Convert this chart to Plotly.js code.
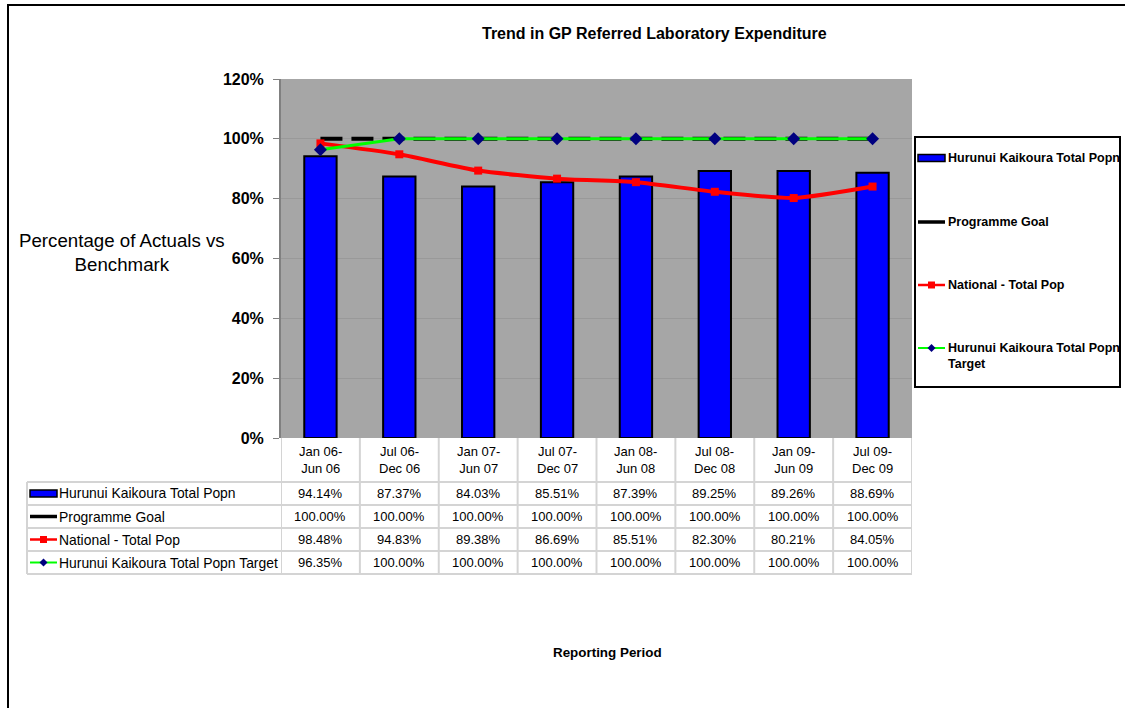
<!DOCTYPE html>
<html>
<head>
<meta charset="utf-8">
<script src="https://cdn.plot.ly/plotly-3.0.1.min.js"></script>
<style>html,body{margin:0;padding:0;background:#fff;}#chart{width:1125px;height:708px;}</style>
</head>
<body>
<div id="chart"></div>
<script>
// ---- data ----
var periodStart = ["Jan 06-", "Jul 06-", "Jan 07-", "Jul 07-", "Jan 08-", "Jul 08-", "Jan 09-", "Jul 09-"];
var periodEnd   = ["Jun 06", "Dec 06", "Jun 07", "Dec 07", "Jun 08", "Dec 08", "Jun 09", "Dec 09"];
var hurunuiActual   = [94.14, 87.37, 84.03, 85.51, 87.39, 89.25, 89.26, 88.69];
var programmeGoal   = [100.00, 100.00, 100.00, 100.00, 100.00, 100.00, 100.00, 100.00];
var nationalTotal   = [98.48, 94.83, 89.38, 86.69, 85.51, 82.30, 80.21, 84.05];
var hurunuiTarget   = [96.35, 100.00, 100.00, 100.00, 100.00, 100.00, 100.00, 100.00];
var seriesNames = ["Hurunui Kaikoura Total Popn", "Programme Goal", "National - Total Pop", "Hurunui Kaikoura Total Popn Target"];
var yTickVals = [0, 0.2, 0.4, 0.6, 0.8, 1.0, 1.2];

// ---- layout geometry (pixels) ----
var W = 1125, H = 708;
var PL = 281, PR = 912, PT = 79, PB = 438;
function py(p) { return (PB - p) / (PB - PT); }      // pixel y -> paper y
function px(p) { return (p - PL) / (PR - PL); }      // pixel x -> paper x

var FONT = "Liberation Sans, Arial, sans-serif";
var idx = periodStart.map(function (_, i) { return i; });
var frac = function (a) { return a.map(function (v) { return v / 100; }); };

var traces = [
  { type: "bar", x: idx, y: frac(hurunuiActual), name: seriesNames[0], width: 0.41,
    marker: { color: "#0000ff", line: { color: "#000000", width: 2 } }, hoverinfo: "y" },
  { type: "scatter", mode: "lines", x: idx, y: frac(programmeGoal), name: seriesNames[1],
    line: { color: "#000000", width: 4, dash: "22px,9px" } },
  { type: "scatter", mode: "lines+markers", x: idx, y: frac(nationalTotal), name: seriesNames[2],
    line: { color: "#ff0000", width: 4, shape: "spline", smoothing: 0.6 },
    marker: { symbol: "square", size: 8, color: "#ff0000" } },
  { type: "scatter", mode: "lines+markers", x: idx, y: frac(hurunuiTarget), name: seriesNames[3],
    line: { color: "#00ff00", width: 3 },
    marker: { symbol: "diamond", size: 10, color: "#000080" } }
];

var shapes = [], annotations = [];
var GRID = "#d4d4d4";
// outer chart frame
shapes.push({ type: "line", xref: "paper", yref: "paper", x0: px(7), x1: px(1125), y0: py(5), y1: py(5), line: { color: "#000", width: 2 } });
shapes.push({ type: "line", xref: "paper", yref: "paper", x0: px(8), x1: px(8), y0: py(5), y1: py(708), line: { color: "#000", width: 2 } });

// data table
var rowEdges = [482, 505, 528, 551, 574];
var tableLeft = 27;
for (var i = 0; i <= periodStart.length; i++) {
  shapes.push({ type: "line", xref: "x", yref: "paper", x0: i - 0.5, x1: i - 0.5, y0: py(PB), y1: py(574), line: { color: GRID, width: 2 } });
}
shapes.push({ type: "line", xref: "paper", yref: "paper", x0: px(tableLeft), x1: px(tableLeft), y0: py(482), y1: py(574), line: { color: GRID, width: 2 } });
rowEdges.forEach(function (ry) {
  shapes.push({ type: "line", xref: "paper", yref: "paper", x0: px(tableLeft), x1: 1, y0: py(ry), y1: py(ry), line: { color: GRID, width: 2 } });
});
// header labels
idx.forEach(function (i) {
  annotations.push({ xref: "x", yref: "paper", x: i, y: py(459.5), text: periodStart[i] + "<br>" + periodEnd[i],
    showarrow: false, font: { family: FONT, size: 13, color: "#000" }, xanchor: "center", yanchor: "middle" });
});
// value cells
var rowsData = [hurunuiActual, programmeGoal, nationalTotal, hurunuiTarget];
rowsData.forEach(function (arr, r) {
  var cy = (rowEdges[r] + rowEdges[r + 1]) / 2;
  arr.forEach(function (v, i) {
    annotations.push({ xref: "x", yref: "paper", x: i, y: py(cy), text: v.toFixed(2) + "%",
      showarrow: false, font: { family: FONT, size: 13, color: "#000" }, xanchor: "center", yanchor: "middle" });
  });
  annotations.push({ xref: "paper", yref: "paper", x: px(57), y: py(cy), text: seriesNames[r],
    showarrow: false, font: { family: FONT, size: 13.9, color: "#000" }, xanchor: "left", yanchor: "middle" });
});

// legend key symbols (used in table and in the side legend)
function keySymbols(x0, x1, cy, r) {
  var xm = (x0 + x1) / 2;
  if (r === 0) {
    shapes.push({ type: "rect", xref: "paper", yref: "paper", x0: px(x0), x1: px(x1), y0: py(cy - 3.5), y1: py(cy + 3.5),
      fillcolor: "#0000ff", line: { color: "#000", width: 1.5 } });
  } else if (r === 1) {
    shapes.push({ type: "line", xref: "paper", yref: "paper", x0: px(x0), x1: px(x1), y0: py(cy), y1: py(cy), line: { color: "#000", width: 3.5 } });
  } else if (r === 2) {
    shapes.push({ type: "line", xref: "paper", yref: "paper", x0: px(x0), x1: px(x1), y0: py(cy), y1: py(cy), line: { color: "#ff0000", width: 2.5 } });
    shapes.push({ type: "rect", xref: "paper", yref: "paper", x0: px(xm - 3.5), x1: px(xm + 3.5), y0: py(cy - 3.5), y1: py(cy + 3.5), fillcolor: "#ff0000", line: { width: 0 } });
  } else {
    shapes.push({ type: "line", xref: "paper", yref: "paper", x0: px(x0), x1: px(x1), y0: py(cy), y1: py(cy), line: { color: "#00ff00", width: 2 } });
    shapes.push({ type: "path", xref: "paper", yref: "paper",
      path: "M " + px(xm - 4) + " " + py(cy) + " L " + px(xm) + " " + py(cy - 4) + " L " + px(xm + 4) + " " + py(cy) + " L " + px(xm) + " " + py(cy + 4) + " Z",
      fillcolor: "#000080", line: { width: 0 } });
  }
}
rowsData.forEach(function (_, r) { keySymbols(30, 57, (rowEdges[r] + rowEdges[r + 1]) / 2, r); });

// side legend
shapes.push({ type: "rect", xref: "paper", yref: "paper", x0: px(915), x1: px(1120), y0: py(137), y1: py(387), line: { color: "#000", width: 2 }, fillcolor: "rgba(0,0,0,0)" });
var legY = [158, 222, 285, 348];
var legText = [seriesNames[0], seriesNames[1], seriesNames[2], "Hurunui Kaikoura Total Popn<br>Target"];
legY.forEach(function (ly, r) {
  keySymbols(918, 945, ly, r);
  annotations.push({ xref: "paper", yref: "paper", x: px(946), y: py(ly - 9), text: "<b>" + legText[r] + "</b>",
    showarrow: false, font: { family: FONT, size: 12.5, color: "#000" }, xanchor: "left", yanchor: "top", align: "left" });
});

// titles
annotations.push({ xref: "paper", yref: "paper", x: px(654), y: py(34), text: "<b>Trend in GP Referred Laboratory Expenditure</b>",
  showarrow: false, font: { family: FONT, size: 16, color: "#000" }, xanchor: "center", yanchor: "middle" });
annotations.push({ xref: "paper", yref: "paper", x: px(122), y: py(252), text: "Percentage of Actuals vs<br>Benchmark",
  showarrow: false, font: { family: FONT, size: 18.7, color: "#000" }, xanchor: "center", yanchor: "middle" });
annotations.push({ xref: "paper", yref: "paper", x: px(607), y: py(653), text: "<b>Reporting Period</b>",
  showarrow: false, font: { family: FONT, size: 13.4, color: "#000" }, xanchor: "center", yanchor: "middle" });

var layout = {
  width: W, height: H,
  margin: { l: PL, r: W - PR, t: PT, b: H - PB, pad: 0 },
  paper_bgcolor: "#ffffff", plot_bgcolor: "#a6a6a6",
  showlegend: false,
  xaxis: { type: "linear", range: [-0.5, 7.5], showticklabels: false, showgrid: false, zeroline: false,
    ticks: "", showline: false, fixedrange: true },
  yaxis: { range: [0, 1.2], tickvals: yTickVals, tickformat: ".0%", showgrid: true, gridcolor: "#999999", gridwidth: 1,
    zeroline: false, showline: true, linecolor: "#808080", linewidth: 2, ticks: "outside", ticklen: 6, tickcolor: "#808080",
    tickfont: { family: FONT, size: 16, color: "#000", weight: "bold" }, ticklabelstandoff: 6 },
  shapes: shapes, annotations: annotations
};

Plotly.newPlot("chart", traces, layout, { displayModeBar: false, staticPlot: true });
</script>
</body>
</html>
